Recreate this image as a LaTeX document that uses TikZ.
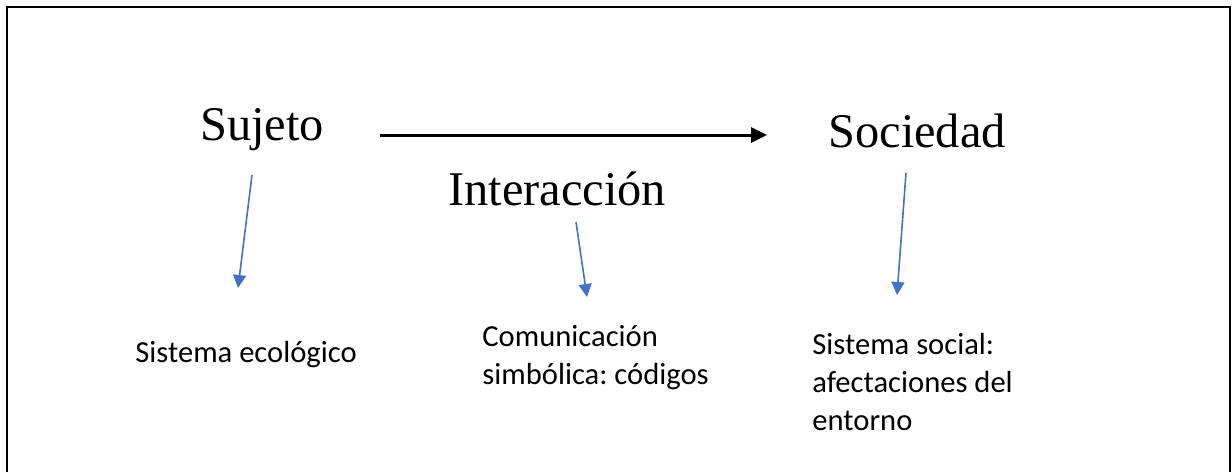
\documentclass[tikz,border=0pt]{standalone}
\usepackage{fontspec}
\setmainfont{Liberation Serif}
\newfontfamily\calibri{Carlito}
\usetikzlibrary{arrows.meta,positioning}
\frenchspacing

\definecolor{flecha}{RGB}{68,114,196}

\begin{document}
\begin{tikzpicture}[x=0.5pt,y=-0.5pt,
  titulo/.style={inner sep=0pt,anchor=base west,font=\fontsize{24.2}{28}\selectfont},
  nota/.style={inner sep=0pt,anchor=base west,align=left,font=\calibri\fontsize{15.3}{19}\selectfont},
  azul/.style={flecha,line width=0.8pt,-{Triangle[length=6.5pt,width=6.5pt]}}]

  \useasboundingbox (0,0) rectangle (1232,472);
  \draw[line width=1pt] (7,472) -- (7,7) -- (1230,7) -- (1230,472);

  % conceptos
  \node[titulo] (sujeto) at (200,140) {Sujeto};
  \node[titulo] (interaccion) at (448,205) {Interacción};
  \node[titulo] (sociedad) at (828,147) {Sociedad};

  % descripciones
  \node[nota] (ecologico) at (135,362) {Sistema ecológico};
  \node[nota] (simbolica) at (482,384) {Comunicación\\simbólica: códigos};
  \node[nota] (social) at (812,430) {Sistema social:\\afectaciones del\\entorno};

  \coordinate (inicio) at (380,135);
  \coordinate (fin) at (767,135);
  \draw[line width=1.5pt,-{Triangle[length=8pt,width=7.5pt]}] (inicio) -- (fin);

  \coordinate (s1) at (252,175);
  \coordinate (s2) at (238,288);
  \coordinate (i1) at (576,222);
  \coordinate (i2) at (587,297);
  \coordinate (o1) at (906,173);
  \coordinate (o2) at (897,295);
  \draw[azul] (s1) -- (s2);
  \draw[azul] (i1) -- (i2);
  \draw[azul] (o1) -- (o2);
\end{tikzpicture}
\end{document}
